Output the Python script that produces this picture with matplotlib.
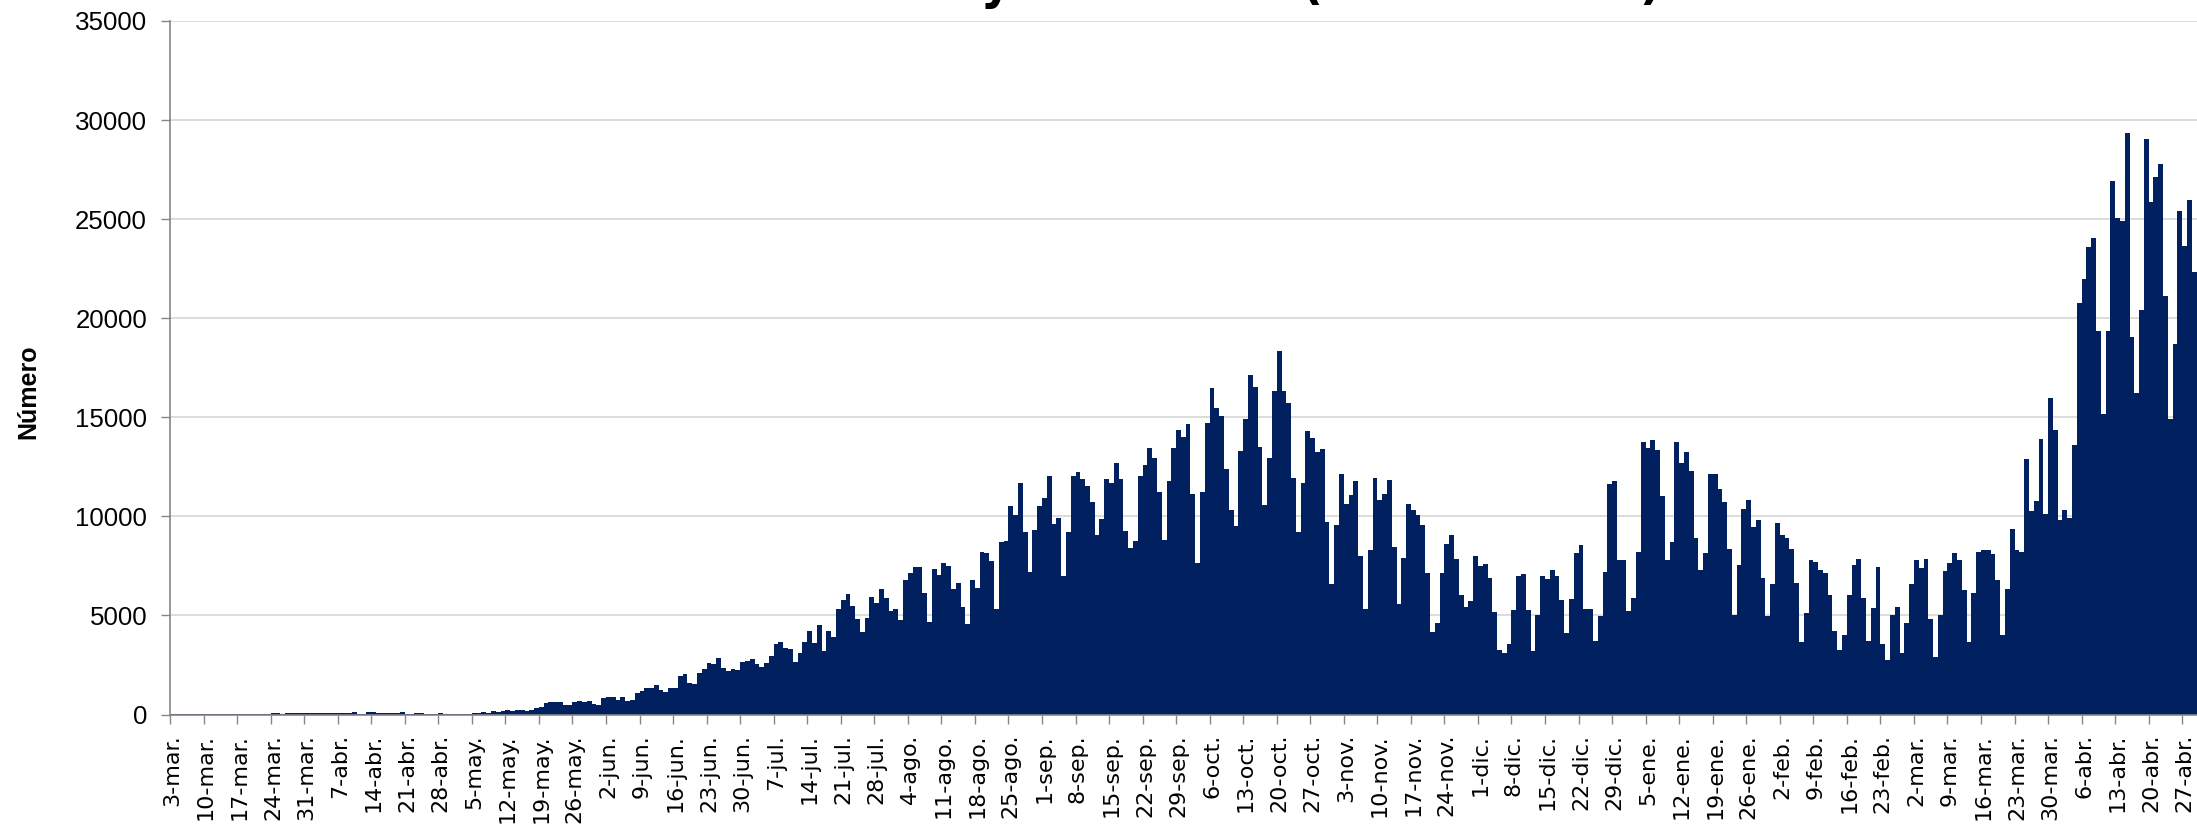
import matplotlib
matplotlib.use('Agg')
import matplotlib.pyplot as plt
from matplotlib.font_manager import FontProperties
from matplotlib.textpath import TextToPath
import numpy as np
import pandas as pd

# casos diarios por mes, desde el 3-mar-2020 hasta el 30-abr-2021
mar20 = [1, 1, 3, 2, 5, 4, 5, 10, 3, 12, 8, 10, 15, 20, 25, 30, 25, 50, 30, 35,
         35, 60, 55, 50, 85, 60, 100, 70, 65]
abr20 = [100, 60, 55, 60, 65, 60, 60, 55, 60, 135, 50, 50, 150, 120, 70, 65, 70, 65,
         70, 115, 50, 50, 85, 85, 20, 25, 50, 85, 50, 25]
may20 = [50, 35, 25, 50, 100, 100, 150, 85, 185, 150, 200, 250, 200, 250, 250, 200,
         220, 335, 370, 570, 640, 640, 640, 470, 500, 640, 700, 640, 700, 550, 490]
jun20 = [840, 870, 870, 755, 905, 700, 740, 1060, 1200, 1350, 1350, 1490, 1230, 1150,
         1350, 1350, 1945, 2045, 1570, 1540, 2110, 2280, 2585, 2550, 2840, 2365, 2200,
         2300, 2250, 2635]
jul20 = [2720, 2820, 2550, 2415, 2585, 2960, 3565, 3635, 3345, 3295, 2635, 3090, 3635,
         4210, 3600, 4510, 3210, 4210, 3900, 5320, 5760, 6085, 5490, 4815, 4160, 4870,
         5930, 5630, 6355, 5880, 5240]
ago20 = [5340, 4780, 6790, 7120, 7450, 7435, 6145, 4685, 7365, 7035, 7645, 7485, 6355,
         6650, 5450, 4545, 6810, 6390, 8200, 8150, 7750, 5330, 8690, 8740, 10535, 10080,
         11700, 9210, 7175, 9300, 10515]
sep20 = [10935, 12030, 9610, 9925, 6965, 9210, 12030, 12240, 11875, 11510, 10740, 9055,
         9870, 11875, 11665, 12690, 11910, 9260, 8425, 8760, 12030, 12600, 13455, 12940,
         11245, 8830, 11800, 13475, 14370, 14005]
oct20 = [14670, 11130, 7670, 11245, 14730, 16460, 15450, 15090, 12410, 10315, 9515,
         13285, 14920, 17110, 16540, 13510, 10580, 12940, 16330, 18325, 16330, 15700,
         11950, 9230, 11705, 14290, 13930, 13265, 13380, 9705, 6585]
nov20 = [9570, 12160, 10640, 11095, 11760, 8010, 5330, 8280, 11950, 10850, 11150, 11855,
         8470, 5595, 7880, 10600, 10315, 10085, 9570, 7135, 4170, 4605, 7135, 8600, 9040,
         7840, 6050, 5405, 5710, 7990]
dic20 = [7515, 7610, 6890, 5175, 3235, 3100, 3560, 5290, 6985, 7080, 5270, 3200, 5005,
         6985, 6850, 7290, 6985, 5765, 4110, 5840, 8145, 8545, 5330, 5330, 3710, 4985,
         7190, 11645, 11760, 7800, 7800]
ene21 = [5235, 5860, 8200, 13760, 13455, 13835, 13360, 11040, 7800, 8695, 13760, 12710,
         13265, 12310, 8905, 7270, 8165, 12120, 12120, 11360, 10735, 8375, 5005, 7555,
         10370, 10810, 9475, 9800, 6890, 4985, 6605]
feb21 = [9665, 9060, 8885, 8375, 6660, 3655, 5140, 7785, 7705, 7310, 7135, 6030, 4225,
         3255, 3995, 6030, 7535, 7860, 5900, 3690, 5355, 7450, 3570, 2760, 5020, 5425,
         3120, 4595]
mar21 = [6590, 7805, 7380, 7855, 4810, 2880, 5000, 7260, 7640, 8165, 7805, 6260, 3640,
         6140, 8210, 8280, 8280, 8090, 6785, 4000, 6355, 9355, 8280, 8210, 12875, 10260,
         10780, 13925, 10115, 15995, 14350]
abr21 = [9830, 10305, 9900, 13615, 20775, 21965, 23610, 24040, 19350, 15185, 19350,
         26920, 25060, 24920, 29370, 19040, 16210, 20400, 29035, 25850, 27130, 27800,
         21110, 14925, 18705, 25420, 23655, 25965, 22325, 16445]

meses = ['ene', 'feb', 'mar', 'abr', 'may', 'jun', 'jul', 'ago', 'sep', 'oct', 'nov', 'dic']
titulo = 'Casos nuevos y fallecidos (2020 - 2021)'

casos = (mar20 + abr20 + may20 + jun20 + jul20 + ago20 + sep20 + oct20 + nov20 +
         dic20 + ene21 + feb21 + mar21 + abr21)
fechas = pd.date_range('2020-03-03', periods=len(casos), freq='D')
etiquetas = [f'{d.day}-{meses[d.month - 1]}.' for d in fechas]
x = np.arange(len(casos))

fig = plt.figure(figsize=(21.97, 8.27), dpi=100)
ax = fig.add_axes([170 / 2197, 112.5 / 827, 1 - 170 / 2197, 693.5 / 827])

ax.bar(x, casos, width=1.0, color='#002060', linewidth=0, zorder=2)

ax.set_xlim(-0.5, 422.58)
ax.set_ylim(0, 35000)
ax.set_yticks(np.arange(0, 35001, 5000))
ax.yaxis.grid(True, color='#d9d9d9', linewidth=1.3, zorder=0)
ax.set_axisbelow(True)

# una etiqueta por semana, centrada en el día; las marcas van entre días
semana = x[::7]
ax.set_xticks(semana)
ax.set_xticklabels([etiquetas[i] for i in semana], rotation=90, fontsize=16,
                   family='DejaVu Sans')
ax.set_xticks(semana - 0.5, minor=True)
ax.tick_params(axis='x', which='major', length=0, pad=14)
ax.tick_params(axis='x', which='minor', length=6.5, width=1, color='#868686')
ax.tick_params(axis='y', length=6.5, width=1, color='#868686', pad=10, labelsize=18.6)
plt.setp(ax.get_yticklabels(), family=['Liberation Sans Narrow', 'Liberation Sans'])

for s in ['top', 'right']:
    ax.spines[s].set_visible(False)
for s in ['left', 'bottom']:
    ax.spines[s].set_color('#868686')
    ax.spines[s].set_linewidth(1.2)

ax.set_ylabel('Número', fontsize=18, fontweight='bold', family='Liberation Sans')
ax.yaxis.set_label_coords(-0.064, 0.465)

# el título queda casi fuera del lienzo: solo asoman "y", "(" y ")"
# se mide el texto para dejar esos trozos donde están en la imagen
t2p = TextToPath()
prop = FontProperties(family='DejaVu Sans', weight='bold', size=10)


def ancho(s):
    return t2p.get_text_width_height_descent(s, prop, ismath=False)[0] * 100 / 72


pre_y = titulo[:titulo.index(' y ') + 2]
c_y = ancho(pre_y) - ancho('y') / 2
c_par = ancho(titulo) - ancho(')') / 2
escala = (1653 - 997) / (c_par - c_y)
tam = 10 * escala
x0 = 997 - c_y * escala
fig.text(x0 / 2197, 1 + 1 / 827, titulo, ha='left', va='baseline',
         fontsize=tam, fontweight='bold', family='DejaVu Sans')

fig.savefig('out.png', dpi=100)
